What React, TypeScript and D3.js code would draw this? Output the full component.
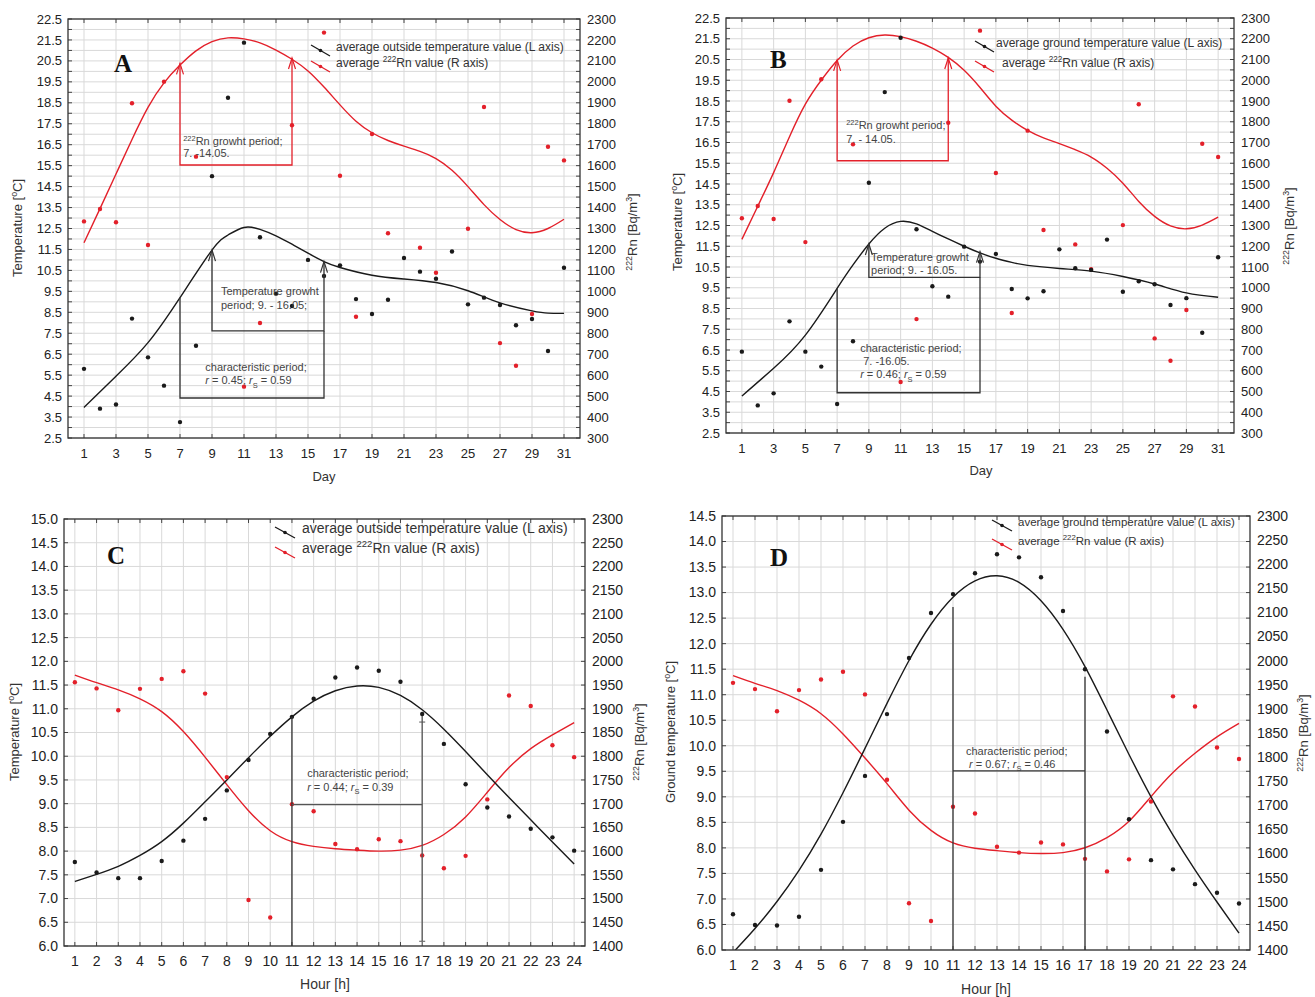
import React from 'react';
import * as d3 from 'd3';

type P = [number, number];

// ---------------- shared tick labels ----------------
const dayTicks = [1, 3, 5, 7, 9, 11, 13, 15, 17, 19, 21, 23, 25, 27, 29, 31];
const tempTicksAB = [2.5, 3.5, 4.5, 5.5, 6.5, 7.5, 8.5, 9.5, 10.5, 11.5, 12.5, 13.5, 14.5, 15.5, 16.5, 17.5, 18.5, 19.5, 20.5, 21.5, 22.5];
const rnTicksAB = [300, 400, 500, 600, 700, 800, 900, 1000, 1100, 1200, 1300, 1400, 1500, 1600, 1700, 1800, 1900, 2000, 2100, 2200, 2300];
const hourTicks = [1, 2, 3, 4, 5, 6, 7, 8, 9, 10, 11, 12, 13, 14, 15, 16, 17, 18, 19, 20, 21, 22, 23, 24];
const tempTicksC = [6.0, 6.5, 7.0, 7.5, 8.0, 8.5, 9.0, 9.5, 10.0, 10.5, 11.0, 11.5, 12.0, 12.5, 13.0, 13.5, 14.0, 14.5, 15.0];
const tempTicksD = [6.0, 6.5, 7.0, 7.5, 8.0, 8.5, 9.0, 9.5, 10.0, 10.5, 11.0, 11.5, 12.0, 12.5, 13.0, 13.5, 14.0, 14.5];
const rnTicksCD = [1400, 1450, 1500, 1550, 1600, 1650, 1700, 1750, 1800, 1850, 1900, 1950, 2000, 2050, 2100, 2150, 2200, 2250, 2300];
const days = [1, 2, 3, 4, 5, 6, 7, 8, 9, 10, 11, 12, 13, 14, 15, 16, 17, 18, 19, 20, 21, 22, 23, 24, 25, 26, 27, 28, 29, 30, 31];

// ---------------- Panel A ----------------
const aTempValues = [5.8, 3.9, 4.1, 8.2, 6.35, 5.0, 3.26, 6.9, 15.0, 18.74, 21.37, 12.08, 9.39, 8.8, 11.0, 10.23, 10.74, 9.13, 8.42, 9.1, 11.09, 10.44, 10.1, 11.4, 8.88, 9.2, 8.85, 7.88, 8.18, 6.65, 10.63];
const aRnPoints: P[] = [[1, 1334], [2, 1393], [3, 1330], [4, 1898], [5, 1221], [6, 2001], [8, 1643], [11, 545], [12, 849], [14, 1793], [16, 2235], [17, 1552], [18, 879], [19, 1751], [20, 1277], [22, 1208], [23, 1089], [25, 1299], [26, 1880], [27, 753], [28, 645], [29, 892], [30, 1690], [31, 1625]];
const aTempFit: P[] = [[1, 3.96], [3, 5.45], [5, 7.05], [7, 9.2], [9, 11.47], [10, 12.19], [11, 12.55], [12, 12.46], [13, 12.15], [14, 11.75], [15, 11.32], [16, 10.92], [17, 10.64], [19, 10.27], [21, 10.09], [23, 9.92], [25, 9.53], [27, 8.95], [29, 8.57], [30, 8.46], [31, 8.45]];
const aRnFitValues = [1232, 1395, 1560, 1725, 1878, 1995, 2080, 2148, 2192, 2210, 2205, 2186, 2152, 2108, 2052, 1975, 1890, 1812, 1757, 1720, 1693, 1668, 1634, 1578, 1500, 1414, 1343, 1295, 1280, 1300, 1344];

// ---------------- Panel B ----------------
const bTempValues = [6.42, 3.83, 4.41, 7.88, 6.42, 5.7, 3.9, 6.92, 14.56, 18.93, 21.55, 12.32, 9.57, 9.07, 11.48, 10.76, 11.13, 9.44, 8.99, 9.33, 11.35, 10.44, 10.36, 11.82, 9.31, 9.81, 9.67, 8.67, 9.0, 7.33, 10.97];
const bRnPoints: P[] = [[1, 1335], [2, 1394], [3, 1331], [4, 1901], [5, 1220], [6, 2005], [8, 1691], [11, 546], [12, 849], [14, 1795], [16, 2239], [17, 1553], [18, 878], [19, 1757], [20, 1278], [22, 1209], [23, 1090], [25, 1302], [26, 1884], [27, 756], [28, 648], [29, 893], [30, 1694], [31, 1630]];
const bTempFit: P[] = [[1, 4.28], [3, 5.62], [5, 7.22], [7, 9.47], [8, 10.6], [9, 11.61], [10, 12.37], [11, 12.7], [12, 12.58], [13, 12.22], [14, 11.85], [15, 11.5], [16, 11.18], [17, 10.92], [18, 10.72], [19, 10.58], [21, 10.43], [23, 10.3], [25, 10.04], [27, 9.68], [29, 9.25], [31, 9.04]];
const bRnFitValues = [1233, 1393, 1555, 1728, 1885, 2000, 2095, 2165, 2205, 2218, 2210, 2188, 2155, 2110, 2048, 1965, 1875, 1808, 1758, 1722, 1695, 1665, 1630, 1576, 1504, 1416, 1344, 1298, 1284, 1302, 1340];

// ---------------- Panel C ----------------
const cTempValues = [7.77, 7.55, 7.43, 7.43, 7.79, 8.22, 8.68, 9.28, 9.92, 10.47, 10.83, 11.21, 11.66, 11.87, 11.8, 11.57, 10.89, 10.26, 9.41, 8.92, 8.73, 8.47, 8.29, 8.01];
const cRnValues = [1956, 1943, 1897, 1942, 1963, 1979, 1932, 1756, 1497, 1460, 1699, 1684, 1615, 1604, 1625, 1621, 1591, 1564, 1590, 1709, 1928, 1906, 1823, 1798];
const cTempFitValues = [7.36, 7.51, 7.68, 7.91, 8.2, 8.59, 9.04, 9.5, 9.97, 10.42, 10.83, 11.16, 11.38, 11.48, 11.45, 11.28, 10.98, 10.57, 10.1, 9.61, 9.13, 8.66, 8.19, 7.73];
const cRnFitValues = [1971, 1955, 1940, 1921, 1894, 1852, 1798, 1740, 1685, 1643, 1620, 1610, 1605, 1602, 1600, 1602, 1612, 1635, 1672, 1724, 1776, 1816, 1845, 1871];

// ---------------- Panel D ----------------
const dTempValues = [6.7, 6.49, 6.48, 6.65, 7.57, 8.51, 9.41, 10.62, 11.72, 12.6, 12.97, 13.38, 13.75, 13.69, 13.3, 12.64, 11.5, 10.28, 8.56, 7.76, 7.58, 7.29, 7.12, 6.91];
const dRnValues = [1954, 1941, 1895, 1939, 1961, 1977, 1930, 1753, 1497, 1460, 1697, 1683, 1614, 1602, 1623, 1619, 1589, 1563, 1588, 1708, 1926, 1905, 1820, 1796];
const dTempFitValues = [5.95, 6.42, 6.95, 7.56, 8.27, 9.08, 9.95, 10.83, 11.67, 12.38, 12.91, 13.23, 13.33, 13.2, 12.84, 12.28, 11.55, 10.7, 9.83, 9.0, 8.25, 7.57, 6.94, 6.33];
const dRnFitValues = [1969, 1953, 1938, 1918, 1890, 1848, 1798, 1745, 1690, 1648, 1622, 1611, 1606, 1602, 1600, 1602, 1612, 1633, 1667, 1718, 1768, 1808, 1842, 1870];

const zipX = (xs: number[], ys: number[]): P[] => ys.map((v, i) => [xs[i], v]);

const RED = '#e3202a';
const BLK = '#1a1a1a';
const GRID = '#d9d9d9';
const FONT = '"Liberation Sans", Arial, sans-serif';

// ------------- rich text helper -------------
type Seg = { t: string; k: 'n' | 'sup' | 'sub' | 'it' };
function parse(s: string): Seg[] {
  const re = /\^\{([^}]*)\}|_\{([^}]*)\}|\*([^*]*)\*/g;
  const out: Seg[] = [];
  let last = 0;
  let m: RegExpExecArray | null;
  while ((m = re.exec(s))) {
    if (m.index > last) out.push({ t: s.slice(last, m.index), k: 'n' });
    if (m[1] !== undefined) out.push({ t: m[1], k: 'sup' });
    else if (m[2] !== undefined) out.push({ t: m[2], k: 'sub' });
    else out.push({ t: m[3], k: 'it' });
    last = re.lastIndex;
  }
  if (last < s.length) out.push({ t: s.slice(last), k: 'n' });
  return out;
}

function Rich(props: { x: number; y: number; text: string; size: number; fill?: string; anchor?: string; rotate?: number; family?: string; weight?: string }) {
  const { x, y, text, size, fill = '#333', anchor = 'start', rotate, family = FONT, weight } = props;
  let shift = 0;
  const segs = parse(text);
  return (
    <text x={x} y={y} fontSize={size} fill={fill} textAnchor={anchor} fontFamily={family} fontWeight={weight}
      style={{ whiteSpace: 'pre' }} transform={rotate ? `rotate(${rotate},${x},${y})` : undefined}>
      {segs.map((s, i) => {
        const target = s.k === 'sup' ? -0.4 * size : s.k === 'sub' ? 0.28 * size : 0;
        const dy = target - shift;
        shift = target;
        return (
          <tspan key={i} dy={dy} fontSize={s.k === 'sup' || s.k === 'sub' ? size * 0.68 : size} fontStyle={s.k === 'it' ? 'italic' : undefined}>
            {s.t}
          </tspan>
        );
      })}
    </text>
  );
}

// ------------- panel config -------------
type Ann = { pts: P[]; color: string; arrows?: P[]; crosses?: P[] };
type Txt = { x: number; y: number; lines: string[]; lh: number; size: number };
type PanelCfg = {
  id: string;
  l: number; r: number; t: number; b: number;
  xDomain: P; yDomain: P; y2Domain: P;
  xTicks: number[]; yTicks: number[]; y2Ticks: number[]; yGridStep: number; y2Fmt: (v: number) => string; yFmt: (v: number) => string;
  tickSize: number;
  tempPts: P[]; rnPts: P[]; tempFit: P[]; rnFit: P[];
  anns: Ann[]; texts: Txt[];
  letter: { t: string; x: number; y: number };
  legend: { x: number; rows: { yc: number; tx: number; label: string; color: string }[]; size: number; segW: number };
  xTitle: { t: string; x: number; y: number; size: number };
  yTitle: { t: string; x: number; y: number };
  y2Title: { t: string; x: number; y: number };
  xLabelDy: number;
};

const fmt1 = (v: number) => v.toFixed(1);
const fmt0 = (v: number) => String(v);

const panels: PanelCfg[] = [
  {
    id: 'A', l: 68, r: 580, t: 19, b: 438, xDomain: [0, 32], yDomain: [2.5, 22.5], y2Domain: [300, 2300],
    xTicks: dayTicks, yTicks: tempTicksAB, y2Ticks: rnTicksAB, yGridStep: 0.5, yFmt: fmt1, y2Fmt: fmt0, tickSize: 13,
    tempPts: zipX(days, aTempValues), rnPts: aRnPoints, tempFit: aTempFit, rnFit: zipX(days, aRnFitValues),
    anns: [
      { pts: [[7, 20.38], [7, 15.53], [14, 15.53], [14, 20.64]], color: RED, arrows: [[7, 20.38], [14, 20.64]] },
      { pts: [[9, 11.47], [9, 7.61], [16, 7.61], [16, 10.92]], color: '#333', arrows: [[9, 11.47], [16, 10.92]] },
      { pts: [[7, 9.2], [7, 4.41], [16, 4.41], [16, 7.61]], color: '#333' },
    ],
    texts: [
      { x: 7.2, y: 16.49, lines: ['^{222}Rn growht period;', '7. -14.05.'], lh: 12, size: 11 },
      { x: 9.56, y: 9.33, lines: ['Temperature growht', 'period; 9. - 16.05;'], lh: 14, size: 11 },
      { x: 8.58, y: 5.7, lines: ['characteristic period;', '*r* = 0.45; *r*_{S} = 0.59'], lh: 13.5, size: 11 },
    ],
    letter: { t: 'A', x: 114, y: 72 },
    legend: { x: 311, segW: 19, size: 12, rows: [
      { yc: 51, tx: 336, label: 'average outside temperature value (L axis)', color: BLK },
      { yc: 67, tx: 336, label: 'average ^{222}Rn value (R axis)', color: RED },
    ] },
    xTitle: { t: 'Day', x: 324, y: 481, size: 13 },
    yTitle: { t: 'Temperature [^{o}C]', x: 22, y: 228 },
    y2Title: { t: '^{222}Rn [Bq/m^{3}]', x: 637, y: 232 },
    xLabelDy: 20,
  },
  {
    id: 'B', l: 726, r: 1234, t: 18, b: 433, xDomain: [0, 32], yDomain: [2.5, 22.5], y2Domain: [300, 2300],
    xTicks: dayTicks, yTicks: tempTicksAB, y2Ticks: rnTicksAB, yGridStep: 0.5, yFmt: fmt1, y2Fmt: fmt0, tickSize: 13,
    tempPts: zipX(days, bTempValues), rnPts: bRnPoints, tempFit: bTempFit, rnFit: zipX(days, bRnFitValues),
    anns: [
      { pts: [[7, 20.48], [7, 15.62], [14, 15.62], [14, 20.57]], color: RED, arrows: [[7, 20.48], [14, 20.57]] },
      { pts: [[9, 11.61], [9, 10.0], [16, 10.0], [16, 11.24]], color: '#333', arrows: [[9, 11.61], [16, 11.24]] },
      { pts: [[7, 9.47], [7, 4.44], [16, 4.44], [16, 10.0]], color: '#333' },
    ],
    texts: [
      { x: 7.57, y: 17.15, lines: ['^{222}Rn growht period;', '7. - 14.05.'], lh: 13.5, size: 11 },
      { x: 9.14, y: 10.79, lines: ['Temperature growht', 'period; 9. - 16.05.'], lh: 13.5, size: 11 },
      { x: 8.45, y: 6.38, lines: ['characteristic period;', ' 7. -16.05.', '*r* = 0.46; *r*_{S} = 0.59'], lh: 13, size: 11 },
    ],
    letter: { t: 'B', x: 770, y: 68 },
    legend: { x: 975, segW: 19, size: 12, rows: [
      { yc: 47, tx: 996, label: 'average ground temperature value (L axis)', color: BLK },
      { yc: 67, tx: 1002, label: 'average ^{222}Rn value (R axis)', color: RED },
    ] },
    xTitle: { t: 'Day', x: 981, y: 475, size: 13 },
    yTitle: { t: 'Temperature [^{o}C]', x: 682, y: 222 },
    y2Title: { t: '^{222}Rn [Bq/m^{3}]', x: 1294, y: 226 },
    xLabelDy: 20,
  },
  {
    id: 'C', l: 64, r: 585, t: 519, b: 946, xDomain: [0.5, 24.5], yDomain: [6, 15], y2Domain: [1400, 2300],
    xTicks: hourTicks, yTicks: tempTicksC, y2Ticks: rnTicksCD, yGridStep: 0.5, yFmt: fmt1, y2Fmt: fmt0, tickSize: 14,
    tempPts: zipX(hourTicks, cTempValues), rnPts: zipX(hourTicks, cRnValues), tempFit: zipX(hourTicks, cTempFitValues), rnFit: zipX(hourTicks, cRnFitValues),
    anns: [
      { pts: [[11, 10.83], [11, 6.0]], color: '#333' },
      { pts: [[11, 8.98], [17, 8.98]], color: '#555' },
      { pts: [[17, 10.85], [17, 6.1]], color: '#555', crosses: [[17, 10.72], [17, 6.1]] },
    ],
    texts: [{ x: 11.7, y: 9.56, lines: ['characteristic period;', '*r* = 0.44; *r*_{S} = 0.39'], lh: 14, size: 11 }],
    letter: { t: 'C', x: 107, y: 564 },
    legend: { x: 275, segW: 20, size: 14, rows: [
      { yc: 533, tx: 302, label: 'average outside temperature value (L axis)', color: BLK },
      { yc: 553, tx: 302, label: 'average ^{222}Rn value (R axis)', color: RED },
    ] },
    xTitle: { t: 'Hour [h]', x: 325, y: 989, size: 14 },
    yTitle: { t: 'Temperature [^{o}C]', x: 19, y: 732 },
    y2Title: { t: '^{222}Rn [Bq/m^{3}]', x: 644, y: 742 },
    xLabelDy: 20,
  },
  {
    id: 'D', l: 722, r: 1250, t: 516, b: 950, xDomain: [0.5, 24.5], yDomain: [6, 14.5], y2Domain: [1400, 2300],
    xTicks: hourTicks, yTicks: tempTicksD, y2Ticks: rnTicksCD, yGridStep: 0.5, yFmt: fmt1, y2Fmt: fmt0, tickSize: 14,
    tempPts: zipX(hourTicks, dTempValues), rnPts: zipX(hourTicks, dRnValues), tempFit: zipX(hourTicks, dTempFitValues), rnFit: zipX(hourTicks, dRnFitValues),
    anns: [
      { pts: [[11, 12.72], [11, 6.0]], color: '#333' },
      { pts: [[11, 9.51], [17, 9.51]], color: '#333' },
      { pts: [[17, 11.35], [17, 6.0]], color: '#333' },
    ],
    texts: [{ x: 11.59, y: 9.82, lines: ['characteristic period;', ' *r* = 0.67; *r*_{S} = 0.46'], lh: 13, size: 11 }],
    letter: { t: 'D', x: 770, y: 566 },
    legend: { x: 992, segW: 20, size: 11.5, rows: [
      { yc: 526, tx: 1018, label: 'average ground temperature value (L axis)', color: BLK },
      { yc: 545, tx: 1018, label: 'average ^{222}Rn value (R axis)', color: RED },
    ] },
    xTitle: { t: 'Hour [h]', x: 986, y: 994, size: 14 },
    yTitle: { t: 'Ground temperature [^{o}C]', x: 675, y: 732 },
    y2Title: { t: '^{222}Rn [Bq/m^{3}]', x: 1308, y: 733 },
    xLabelDy: 20,
  },
];

function Panel({ p }: { p: PanelCfg }) {
  const x = d3.scaleLinear().domain(p.xDomain).range([p.l, p.r]);
  const y = d3.scaleLinear().domain(p.yDomain).range([p.b, p.t]);
  const y2 = d3.scaleLinear().domain(p.y2Domain).range([p.b, p.t]);
  const lineT = d3.line<P>().x(d => x(d[0])).y(d => y(d[1])).curve(d3.curveNatural);
  const lineR = d3.line<P>().x(d => x(d[0])).y(d => y2(d[1])).curve(d3.curveNatural);
  const lineA = d3.line<P>().x(d => x(d[0])).y(d => y(d[1]));
  const yGrid = d3.range(p.yDomain[0], p.yDomain[1] + 1e-6, p.yGridStep);
  const clip = `clip-${p.id}`;
  return (
    <g>
      <defs>
        <clipPath id={clip}><rect x={p.l} y={p.t} width={p.r - p.l} height={p.b - p.t} /></clipPath>
      </defs>
      {/* grid */}
      {yGrid.map((v, i) => (
        <line key={'gy' + i} x1={p.l} x2={p.r} y1={y(v)} y2={y(v)} stroke={GRID} strokeWidth={1} />
      ))}
      {p.xTicks.map(v => (
        <line key={'gx' + v} x1={x(v)} x2={x(v)} y1={p.t} y2={p.b} stroke={GRID} strokeWidth={1} />
      ))}
      {/* ticks */}
      {yGrid.map((v, i) => (
        <g key={'ty' + i}>
          <line x1={p.l} x2={p.l + 4} y1={y(v)} y2={y(v)} stroke="#444" />
          <line x1={p.r - 4} x2={p.r} y1={y(v)} y2={y(v)} stroke="#444" />
        </g>
      ))}
      {p.xTicks.map(v => (
        <g key={'tx' + v}>
          <line x1={x(v)} x2={x(v)} y1={p.t} y2={p.t + 4} stroke="#444" />
          <line x1={x(v)} x2={x(v)} y1={p.b - 4} y2={p.b} stroke="#444" />
        </g>
      ))}
      {/* curves & points */}
      <g clipPath={`url(#${clip})`}>
        <path d={lineR(p.rnFit) || ''} fill="none" stroke={RED} strokeWidth={1.4} />
        <path d={lineT(p.tempFit) || ''} fill="none" stroke={BLK} strokeWidth={1.4} />
        {p.rnPts.map((d, i) => <circle key={'r' + i} cx={x(d[0])} cy={y2(d[1])} r={2.2} fill={RED} />)}
        {p.tempPts.map((d, i) => <circle key={'t' + i} cx={x(d[0])} cy={y(d[1])} r={2.2} fill={BLK} />)}
      </g>
      {/* annotations */}
      {p.anns.map((a, i) => (
        <g key={'a' + i}>
          <path d={lineA(a.pts) || ''} fill="none" stroke={a.color} strokeWidth={1.3} />
          {(a.arrows || []).map((t, j) => (
            <path key={j} d={`M${x(t[0]) - 3.5},${y(t[1]) + 11}L${x(t[0])},${y(t[1])}L${x(t[0]) + 3.5},${y(t[1]) + 11}`} fill="none" stroke={a.color} strokeWidth={1.2} />
          ))}
          {(a.crosses || []).map((t, j) => (
            <path key={'c' + j} d={`M${x(t[0]) - 3},${y(t[1])}H${x(t[0]) + 3}`} fill="none" stroke={a.color} strokeWidth={1} />
          ))}
        </g>
      ))}
      {p.texts.map((t, i) => (
        <g key={'tt' + i}>
          {t.lines.map((ln, j) => (
            <Rich key={j} x={x(t.x)} y={y(t.y) + j * t.lh} text={ln} size={t.size} fill="#444" />
          ))}
        </g>
      ))}
      {/* frame */}
      <rect x={p.l} y={p.t} width={p.r - p.l} height={p.b - p.t} fill="none" stroke="#333" strokeWidth={1.3} />
      {/* tick labels */}
      {p.yTicks.map(v => (
        <text key={'yl' + v} x={p.l - 6} y={y(v)} dy="0.35em" textAnchor="end" fontSize={p.tickSize} fontFamily={FONT} fill="#222">{p.yFmt(v)}</text>
      ))}
      {p.y2Ticks.map(v => (
        <text key={'y2l' + v} x={p.r + 7} y={y2(v)} dy="0.35em" textAnchor="start" fontSize={p.tickSize} fontFamily={FONT} fill="#222">{p.y2Fmt(v)}</text>
      ))}
      {p.xTicks.map(v => (
        <text key={'xl' + v} x={x(v)} y={p.b + p.xLabelDy} textAnchor="middle" fontSize={p.tickSize} fontFamily={FONT} fill="#222">{v}</text>
      ))}
      {/* legend */}
      {p.legend.rows.map((r, i) => (
        <g key={'lg' + i}>
          <line x1={p.legend.x} y1={r.yc - 6} x2={p.legend.x + p.legend.segW} y2={r.yc + 5} stroke={r.color} strokeWidth={1.3} />
          <circle cx={p.legend.x + p.legend.segW / 2} cy={r.yc - 0.5} r={1.8} fill={r.color} />
          <Rich x={r.tx} y={r.yc} text={r.label} size={p.legend.size} fill="#333" />
        </g>
      ))}
      {/* letter */}
      <text x={p.letter.x} y={p.letter.y} fontSize={25} fontWeight="bold" fontFamily='"Liberation Serif", "Times New Roman", serif' fill="#111">{p.letter.t}</text>
      {/* axis titles */}
      <text x={p.xTitle.x} y={p.xTitle.y} textAnchor="middle" fontSize={p.xTitle.size} fontFamily={FONT} fill="#333">{p.xTitle.t}</text>
      <Rich x={p.yTitle.x} y={p.yTitle.y} text={p.yTitle.t} size={13} anchor="middle" rotate={-90} fill="#333" />
      <Rich x={p.y2Title.x} y={p.y2Title.y} text={p.y2Title.t} size={13} anchor="middle" rotate={-90} fill="#333" />
    </g>
  );
}

export default function App() {
  return (
    <svg width={1315} height={997} style={{ position: 'absolute', left: 0, top: 0, background: '#fff' }}>
      <rect width={1315} height={997} fill="#fff" />
      {panels.map(p => <Panel key={p.id} p={p} />)}
    </svg>
  );
}
